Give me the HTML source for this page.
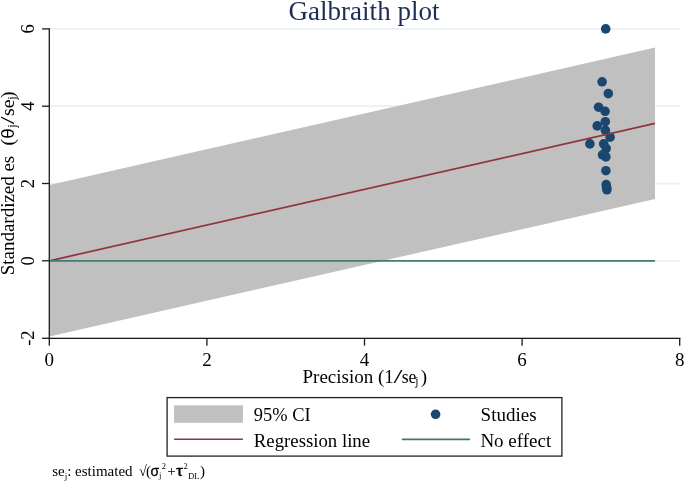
<!DOCTYPE html>
<html><head><meta charset="utf-8">
<style>
html,body{margin:0;padding:0;background:#fff;}
svg{display:block;will-change:transform;}
text{font-family:"Liberation Serif",serif;}
.sans{font-family:"Liberation Sans",sans-serif;}
</style></head>
<body>
<svg width="685" height="482" viewBox="0 0 685 482" fill="#000">
<rect width="685" height="482" fill="#ffffff"/>
<!-- gridlines -->
<g stroke="#e9f1f3" stroke-width="1.75">
<line x1="49" y1="28.9" x2="680" y2="28.9"/>
<line x1="49" y1="106.2" x2="680" y2="106.2"/>
<line x1="49" y1="183.5" x2="680" y2="183.5"/>
<line x1="49" y1="260.8" x2="680" y2="260.8"/>
<line x1="49" y1="338.1" x2="680" y2="338.1"/>
</g>
<!-- CI band -->
<polygon points="49.5,185 655,47.5 655,199.0 49.5,336.5" fill="#c0c0c0"/>
<!-- points -->
<g fill="#1a476f">
<circle cx="605.7" cy="28.9" r="4.8"/>
<circle cx="602.1" cy="81.8" r="4.8"/>
<circle cx="608.3" cy="93.6" r="4.8"/>
<circle cx="598.6" cy="107.2" r="4.8"/>
<circle cx="605.1" cy="111.3" r="4.8"/>
<circle cx="605.3" cy="121.7" r="4.8"/>
<circle cx="597.2" cy="125.9" r="4.8"/>
<circle cx="605.4" cy="130.3" r="4.8"/>
<circle cx="610.1" cy="137.2" r="4.8"/>
<circle cx="589.9" cy="143.9" r="4.8"/>
<circle cx="603.7" cy="143.9" r="4.8"/>
<circle cx="606.2" cy="148.5" r="4.8"/>
<circle cx="602.5" cy="154.8" r="4.8"/>
<circle cx="605.9" cy="156.9" r="4.8"/>
<circle cx="605.9" cy="170.7" r="4.8"/>
<circle cx="606.2" cy="184.6" r="4.8"/>
<circle cx="606.6" cy="187.3" r="4.8"/>
<circle cx="606.9" cy="189.8" r="4.8"/>
</g>
<!-- regression line -->
<line x1="49.5" y1="260.8" x2="655" y2="123.4" stroke="#90353b" stroke-width="1.7"/>
<!-- no effect -->
<line x1="49.5" y1="260.9" x2="655" y2="260.9" stroke="#457973" stroke-width="1.8"/>
<!-- axes -->
<g stroke="#1a1a1a" stroke-width="1.3" fill="none">
<line x1="49.3" y1="28.3" x2="49.3" y2="338.7"/>
<line x1="48.6" y1="338.3" x2="680.4" y2="338.3"/>
<line x1="42" y1="28.9" x2="49.3" y2="28.9"/>
<line x1="42" y1="106.2" x2="49.3" y2="106.2"/>
<line x1="42" y1="183.5" x2="49.3" y2="183.5"/>
<line x1="42" y1="260.8" x2="49.3" y2="260.8"/>
<line x1="42" y1="338.3" x2="49.3" y2="338.3"/>
<line x1="49.3" y1="338.1" x2="49.3" y2="345.7"/>
<line x1="206.9" y1="338.1" x2="206.9" y2="345.7"/>
<line x1="364.5" y1="338.1" x2="364.5" y2="345.7"/>
<line x1="522.1" y1="338.1" x2="522.1" y2="345.7"/>
<line x1="679.7" y1="338.1" x2="679.7" y2="345.7"/>
</g>
<!-- title -->
<text x="364" y="20" font-size="27" text-anchor="middle" fill="#1e2d53" textLength="151" lengthAdjust="spacingAndGlyphs">Galbraith plot</text>
<!-- x tick labels -->
<g font-size="19" text-anchor="middle">
<text x="49.3" y="366">0</text>
<text x="206.9" y="366">2</text>
<text x="364.5" y="366">4</text>
<text x="522.1" y="366">6</text>
<text x="679.7" y="366" text-anchor="end" dx="4.7">8</text>
</g>
<!-- y tick labels -->
<g font-size="18.6" text-anchor="middle">
<text transform="translate(33.7,28.9) rotate(-90)">6</text>
<text transform="translate(33.7,106.2) rotate(-90)">4</text>
<text transform="translate(33.7,183.5) rotate(-90)">2</text>
<text transform="translate(33.7,260.8) rotate(-90)">0</text>
<text transform="translate(33.7,338.1) rotate(-90)">-2</text>
</g>
<!-- x title -->
<g font-size="19">
<text x="302.5" y="383.2">Precision (1</text>
<text x="393.4" y="383.2" textLength="9" lengthAdjust="spacingAndGlyphs">/</text>
<text x="401.7" y="383.2" textLength="14.7" lengthAdjust="spacingAndGlyphs">se</text>
<text x="415.2" y="385.2" font-size="11.6">j</text>
<text x="420.7" y="383.2">)</text>
</g>
<!-- y title -->
<text transform="translate(14.3,275.2) rotate(-90)" font-size="19.6" textLength="119.4" lengthAdjust="spacingAndGlyphs">Standardized es</text>
<g font-size="19.6">
<text transform="translate(14.3,145.5) rotate(-90)">(</text>
<text transform="translate(14.3,138.7) rotate(-90)" class="sans" font-size="17.5" textLength="10.4" lengthAdjust="spacingAndGlyphs">θ</text>
<text transform="translate(15.8,127.8) rotate(-90)" font-size="12.4">j</text>
<text transform="translate(14.3,124.3) rotate(-90)" textLength="7.9" lengthAdjust="spacingAndGlyphs">/</text>
<text transform="translate(14.3,116.0) rotate(-90)" textLength="16.6" lengthAdjust="spacingAndGlyphs">se</text>
<text transform="translate(15.8,99.7) rotate(-90)" font-size="12.4">j</text>
<text transform="translate(14.3,98.0) rotate(-90)">)</text>
</g>
<!-- legend -->
<rect x="167.1" y="397.6" width="394.8" height="58.5" fill="#fff" stroke="#222" stroke-width="1.3"/>
<rect x="174.1" y="405.3" width="68.8" height="17.5" fill="#c0c0c0"/>
<line x1="174.1" y1="439.3" x2="242.9" y2="439.3" stroke="#90353b" stroke-width="1.5"/>
<circle cx="435.6" cy="414.3" r="4.8" fill="#1a476f"/>
<line x1="401.9" y1="439.3" x2="469.9" y2="439.3" stroke="#3f7571" stroke-width="1.7"/>
<g font-size="19">
<text x="253.8" y="421.1" textLength="56.8" lengthAdjust="spacingAndGlyphs">95% CI</text>
<text x="253.8" y="447.0" textLength="116.3" lengthAdjust="spacingAndGlyphs">Regression line</text>
<text x="480.6" y="421.1">Studies</text>
<text x="480.4" y="447.0">No effect</text>
</g>
<!-- footnote -->
<g font-size="15">
<text x="52.2" y="476.3">se<tspan font-size="9" dy="2.5">j</tspan><tspan dy="-2.5">: estimated</tspan></text>
<text x="138.9" y="476.3" textLength="7.8" lengthAdjust="spacingAndGlyphs">√</text>
<text x="145.9" y="476.3">(</text>
<text x="150.5" y="476.3" class="sans" font-size="14" stroke="#000" stroke-width="0.3">σ</text>
<text x="159.0" y="478.2" font-size="8.5">j</text>
<text x="161.7" y="468.5" font-size="8.5">2</text>
<text x="167.2" y="476.3">+</text>
<text x="175.9" y="476.3" class="sans" font-size="14" stroke="#000" stroke-width="0.3" textLength="7" lengthAdjust="spacingAndGlyphs">τ</text>
<text x="183.6" y="468.5" font-size="8.5">2</text>
<text x="188.1" y="479" font-size="8" textLength="11.6" lengthAdjust="spacingAndGlyphs">DL</text>
<text x="199.9" y="476.3">)</text>
</g>
</svg>
</body></html>
